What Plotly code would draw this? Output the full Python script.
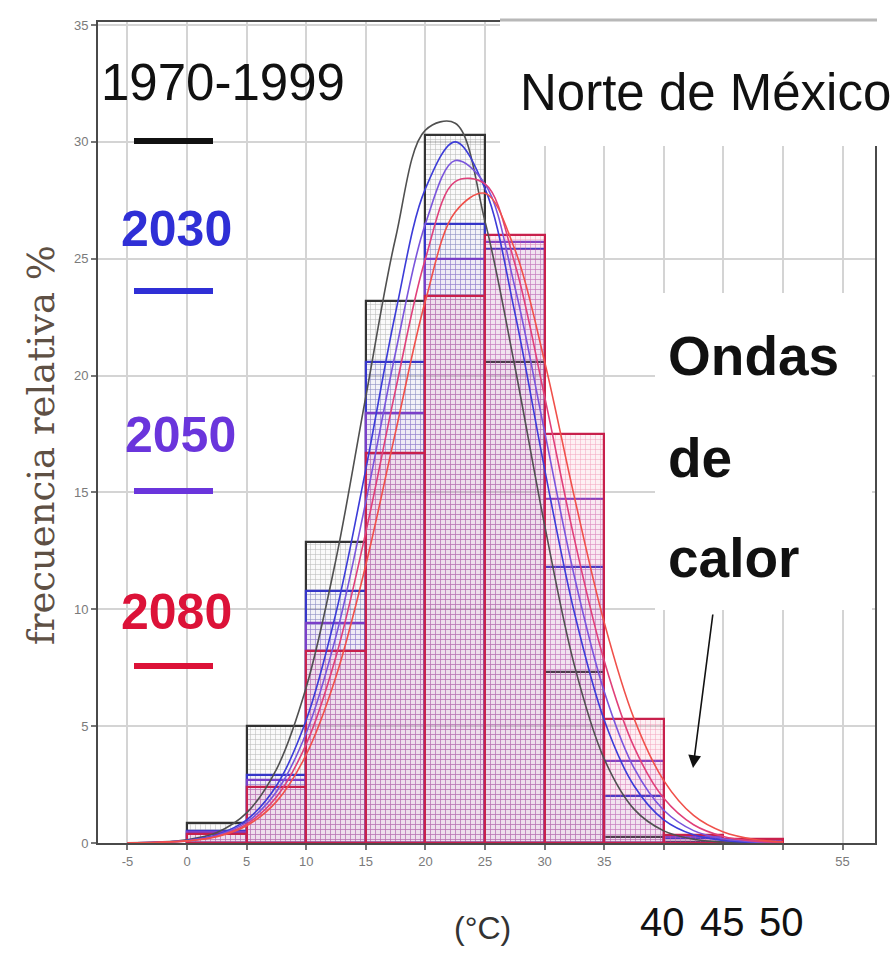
import plotly.graph_objects as go

# ---- data -------------------------------------------------------------
# 5 °C temperature bins (bin centres) and relative frequency (%) per period
bin_centers = [2.5, 7.5, 12.5, 17.5, 22.5, 27.5, 32.5, 37.5, 42.5, 47.5]
freq_1970_1999 = [0.85, 5.0, 12.9, 23.2, 30.3, 20.6, 7.3, 0.25, 0.05, 0.0]
freq_2030 = [0.5, 2.9, 10.8, 20.6, 26.5, 25.4, 11.8, 2.0, 0.2, 0.05]
freq_2050 = [0.45, 2.7, 9.4, 18.4, 25.0, 25.7, 14.7, 3.5, 0.25, 0.1]
freq_2080 = [0.4, 2.4, 8.2, 16.7, 23.4, 26.0, 17.5, 5.3, 0.35, 0.15]

# fitted frequency curves, sampled every 2.5 °C
curve_t = [-5, -2.5, 0, 2.5, 5, 7.5, 10, 12.5, 15, 17.5, 20, 22.5,
           25, 27.5, 30, 32.5, 35, 37.5, 40, 42.5, 45, 47.5, 50]
curve_1970_1999 = [0.01, 0.04, 0.14, 0.45, 1.29, 3.15, 6.66, 12.15, 19.1, 25.9,
                   30.5, 30.8, 26.6, 20.4, 13.6, 7.6, 3.6, 1.45, 0.52, 0.16,
                   0.04, 0.01, 0.0]
curve_2030 = [0.01, 0.03, 0.11, 0.35, 0.99, 2.45, 5.26, 9.85, 16.0, 22.7,
              28.0, 30.0, 28.0, 22.7, 16.0, 9.85, 5.26, 2.45, 0.99, 0.35,
              0.11, 0.03, 0.01]
curve_2050 = [0.01, 0.03, 0.10, 0.32, 0.89, 2.19, 4.71, 8.85, 14.6, 21.0,
              26.5, 29.2, 28.2, 23.8, 17.6, 11.4, 6.48, 3.21, 1.40, 0.53,
              0.18, 0.05, 0.01]
curve_2065 = [0.01, 0.03, 0.09, 0.29, 0.81, 1.97, 4.23, 7.98, 13.3, 19.4,
              25.0, 28.3, 28.2, 24.8, 19.1, 13.0, 7.80, 4.11, 1.91, 0.78,
              0.28, 0.09, 0.02]
curve_2080 = [0.01, 0.03, 0.09, 0.27, 0.74, 1.77, 3.78, 7.12, 11.9, 17.6,
              23.2, 27.0, 27.8, 25.4, 20.6, 14.8, 9.44, 5.33, 2.67, 1.18,
              0.47, 0.16, 0.05]

x_tick_vals = [-5, 0, 5, 10, 15, 20, 25, 30, 35, 40, 45, 50, 55]
x_tick_text = ["-5", "0", "5", "10", "15", "20", "25", "30", "35", "", "", "", "55"]
y_tick_vals = [0, 5, 10, 15, 20, 25, 30, 35]

period_labels = ["1970-1999", "2030", "2050", "2080"]

# ---- styling ----------------------------------------------------------
C_BLUE = "#2f2fd6"
C_PURPLE = "#6a35dc"
C_RED = "#dc1238"

W, H = 896, 956
L, R, T, B = 98, 875, 22, 843          # plot area in pixels


def px(xp):
    return (xp - L) / (R - L)


def py(yp):
    return (B - yp) / (B - T)


SANS = "Liberation Sans, Arial, sans-serif"

fig = go.Figure()

bar_styles = [
    (freq_1970_1999, "#333333", "rgba(120,120,120,0.04)", "#555555", 0.4),
    (freq_2030, "#3535c8", "rgba(90,90,220,0.05)", "#5050d8", 0.4),
    (freq_2050, "#7a3fc8", "rgba(150,90,220,0.05)", "#9a60d8", 0.4),
    (freq_2080, "#c8204c", "rgba(240,110,150,0.10)", "#e85a8a", 0.5),
]
for vals, edge, fill, hatch, op in bar_styles:
    fig.add_trace(go.Bar(
        x=bin_centers, y=vals, width=5,
        marker=dict(
            color=fill,
            line=dict(color=edge, width=2.2),
            pattern=dict(shape="+", fgcolor=hatch, fgopacity=op,
                         size=5, solidity=0.2, fillmode="overlay"),
        ),
        showlegend=False, hoverinfo="skip",
    ))

curve_styles = [
    (curve_1970_1999, "#505050"),
    (curve_2030, "#3c3cd8"),
    (curve_2050, "#7a55dc"),
    (curve_2065, "#e0407a"),
    (curve_2080, "#f0504a"),
]
for vals, col in curve_styles:
    fig.add_trace(go.Scatter(
        x=curve_t, y=vals, mode="lines",
        line=dict(color=col, width=1.6, shape="spline", smoothing=1.0),
        showlegend=False, hoverinfo="skip",
    ))

shapes = []
# white panels behind the titles
shapes.append(dict(type="rect", xref="paper", yref="paper", layer="above",
                   x0=px(500), x1=px(884), y0=py(146), y1=py(12),
                   fillcolor="white", line=dict(width=0)))
shapes.append(dict(type="line", xref="paper", yref="paper", layer="above",
                   x0=px(500), x1=px(877), y0=py(20), y1=py(20),
                   line=dict(color="#b8b8b8", width=3)))
shapes.append(dict(type="rect", xref="paper", yref="paper", layer="above",
                   x0=px(655), x1=px(872), y0=py(610), y1=py(293),
                   fillcolor="white", line=dict(width=0)))
# legend keys
for yk, col in [(141, "#111111"), (291, C_BLUE), (491, C_PURPLE), (666, C_RED)]:
    shapes.append(dict(type="line", xref="paper", yref="paper", layer="above",
                       x0=px(134), x1=px(213), y0=py(yk), y1=py(yk),
                       line=dict(color=col, width=6)))

annotations = []


def label(text, xc, yc, size, color, family=SANS, xanchor="center", angle=0):
    annotations.append(dict(text=text, x=px(xc), y=py(yc), xref="paper", yref="paper",
                            showarrow=False, xanchor=xanchor, yanchor="middle",
                            textangle=angle,
                            font=dict(size=size, color=color, family=family)))


label(period_labels[0], 223, 82, 51, "#111111")
label("<b>" + period_labels[1] + "</b>", 176, 229, 50, C_BLUE)
label("<b>" + period_labels[2] + "</b>", 180, 435, 50, C_PURPLE)
label("<b>" + period_labels[3] + "</b>", 176, 612, 50, C_RED)
label("Norte de México", 705, 92, 51, "#111111")
label("<b>Ondas</b>", 666, 356, 55, "#111111", xanchor="left")
label("<b>de</b>", 666, 458, 55, "#111111", xanchor="left")
label("<b>calor</b>", 666, 558, 55, "#111111", xanchor="left")
label("40", 662, 922, 40, "#111111")
label("45", 722, 922, 40, "#111111")
label("50", 781, 922, 40, "#111111")
label("(°C)", 482, 928, 32, "#333333")
label("frecuencia relativa %", 42, 445, 37, "#5e5044",
      family="DejaVu Serif, Liberation Serif, serif", angle=-90)

# arrow pointing at the warm tail
annotations.append(dict(text="", x=px(693), y=py(768), xref="paper", yref="paper",
                        showarrow=True, ax=20, ay=-155, arrowhead=2, arrowsize=1.6,
                        arrowwidth=1.6, arrowcolor="#111111"))

axis_common = dict(showline=True, linecolor="#4a4a4a", linewidth=2, mirror=True,
                   showgrid=True, gridcolor="#d4d4d4", gridwidth=2,
                   ticks="outside", ticklen=5, tickcolor="#777777", tickwidth=1.5,
                   zeroline=False,
                   tickfont=dict(family=SANS, size=13, color="#7a7a7a"))

fig.update_layout(
    width=W, height=H,
    margin=dict(l=L, r=W - R, t=T, b=H - B),
    paper_bgcolor="white", plot_bgcolor="white",
    barmode="overlay", bargap=0,
    xaxis=dict(range=[-7.47, 57.72], tickvals=x_tick_vals, ticktext=x_tick_text,
               **axis_common),
    yaxis=dict(range=[0, 35.13], tickvals=y_tick_vals, **axis_common),
    shapes=shapes, annotations=annotations,
)

fig.write_html("out.html")
